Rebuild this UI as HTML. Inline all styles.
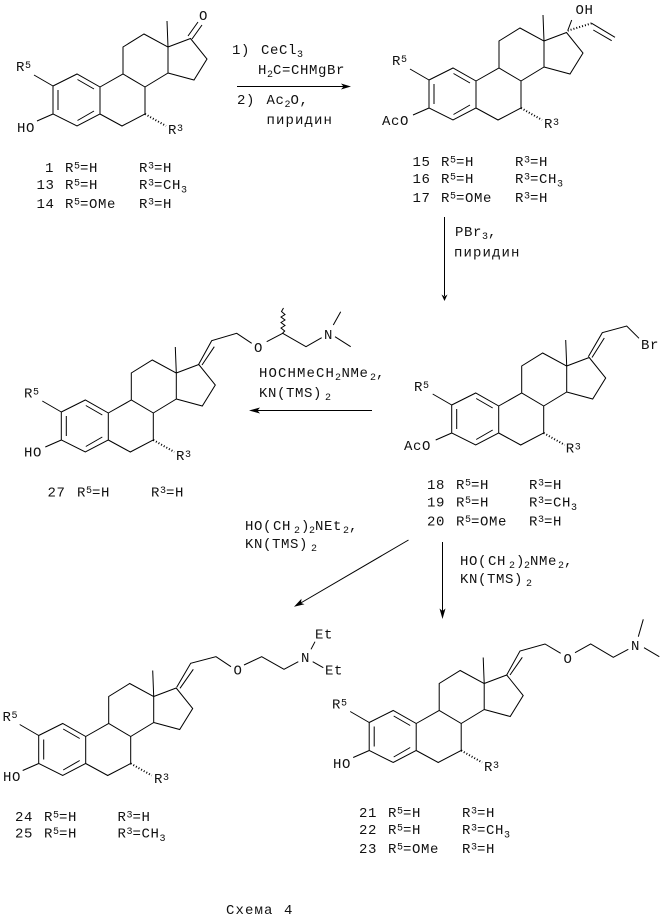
<!DOCTYPE html>
<html><head><meta charset="utf-8"><style>
html,body{margin:0;padding:0;background:#fff}
svg{display:block}
text{font:14px "Liberation Mono","DejaVu Sans Mono",monospace;letter-spacing:.6px;fill:#111}
.s{font-size:10px;letter-spacing:0}
.w{letter-spacing:1.1px}
.b{fill:none;stroke:#000;stroke-width:1}
.h{fill:none;stroke:#000;stroke-width:2;stroke-dasharray:1 2}
.a{fill:#000;stroke:none}
</style></head><body>
<svg width="667" height="922" viewBox="0 0 667 922" xmlns="http://www.w3.org/2000/svg">
<defs>
<g id="sk">
<path class="b" d="M53,86L77,74L100,87L100,114L77,126L53,114ZM58,90L58,110M77.5,79.5L94,89M77.5,120.5L94,111M100,114L122,126L145,114L145,87L123,74L100,87M123,74L123,47L144,34L168,47L168,73L145,87M168,47L190.5,38.5L207,59L194,80L168,73M168,47L167,21M53,86L34,75M53,114L37,121"/>
<path class="h" d="M145,114L166,126"/>
</g>
</defs>
<rect width="667" height="922" fill="#fff"/>

<!-- Skeletons -->
<use href="#sk"/>
<use href="#sk" x="376" y="-6"/>
<use href="#sk" x="398.7" y="319"/>
<use href="#sk" x="8.3" y="326"/>
<use href="#sk" x="-14.3" y="649.5"/>
<use href="#sk" x="316.2" y="636.5"/>

<!-- Compound 1 -->
<path class="b" d="M188,36L198,22M192,39L202,25"/>
<text x="199" y="20">O</text>
<text x="16" y="71">R<tspan class="s" dy="-3">5</tspan></text>
<text x="17" y="132">HO</text>
<text x="168" y="134">R<tspan class="s" dy="-3">3</tspan></text>
<text x="45" y="172">1</text>
<text x="65" y="172">R<tspan class="s" dy="-3.5">5</tspan><tspan dy="3.5">=H</tspan></text>
<text x="139" y="172">R<tspan class="s" dy="-3.5">3</tspan><tspan dy="3.5">=H</tspan></text>
<text x="36.5" y="189">13</text>
<text x="65" y="189">R<tspan class="s" dy="-3.5">5</tspan><tspan dy="3.5">=H</tspan></text>
<text x="139" y="189">R<tspan class="s" dy="-3.5">3</tspan><tspan dy="3.5">=CH</tspan><tspan class="s" dy="3.5">3</tspan></text>
<text x="36.5" y="208">14</text>
<text x="65" y="208">R<tspan class="s" dy="-3.5">5</tspan><tspan dy="3.5">=OMe</tspan></text>
<text x="139" y="208">R<tspan class="s" dy="-3.5">3</tspan><tspan dy="3.5">=H</tspan></text>

<!-- Reagents 1 -->
<text x="232" y="54">1)</text>
<text x="261" y="54">CeCl<tspan class="s" dy="3">3</tspan></text>
<text x="258" y="74">H<tspan class="s" dy="3">2</tspan><tspan dy="-3" x="273">C=CHMgBr</tspan></text>
<path class="b" d="M237,86.5L345,86.5"/>
<polygon class="a" points="351,86.5 341,83.5 343.5,86.5 341,89.5"/>
<text x="237" y="104">2)</text>
<text x="266.5" y="104">Ac<tspan class="s" dy="3">2</tspan><tspan dy="-3">O,</tspan></text>
<text class="w" x="266.5" y="124">пиридин</text>

<!-- Compound 15 -->
<path class="b" d="M567.7,30.7L571.7,20M591.7,23.3L615,37.3M593.3,30L611.7,40.7"/>
<path class="h" d="M567.7,30.7L591.7,23.3"/>
<text x="575.5" y="14">OH</text>
<text x="392" y="65">R<tspan class="s" dy="-3">5</tspan></text>
<text x="382" y="125">AcO</text>
<text x="544" y="128">R<tspan class="s" dy="-3">3</tspan></text>
<text x="412.5" y="166">15</text>
<text x="441" y="166">R<tspan class="s" dy="-3.5">5</tspan><tspan dy="3.5">=H</tspan></text>
<text x="515" y="166">R<tspan class="s" dy="-3.5">3</tspan><tspan dy="3.5">=H</tspan></text>
<text x="412.5" y="183">16</text>
<text x="441" y="183">R<tspan class="s" dy="-3.5">5</tspan><tspan dy="3.5">=H</tspan></text>
<text x="515" y="183">R<tspan class="s" dy="-3.5">3</tspan><tspan dy="3.5">=CH</tspan><tspan class="s" dy="3.5">3</tspan></text>
<text x="412.5" y="202">17</text>
<text x="441" y="202">R<tspan class="s" dy="-3.5">5</tspan><tspan dy="3.5">=OMe</tspan></text>
<text x="515" y="202">R<tspan class="s" dy="-3.5">3</tspan><tspan dy="3.5">=H</tspan></text>

<!-- Arrow PBr3 -->
<text x="455" y="236">PBr<tspan class="s" dy="3">3</tspan><tspan dy="-3">,</tspan></text>
<text class="w" x="454" y="256.5">пиридин</text>
<path class="b" d="M444.5,217L444.5,296"/>
<polygon class="a" points="444.5,301 441.5,294.5 444.5,296.5 447.5,294.5"/>

<!-- Compound 18 -->
<path class="b" d="M588.3,356.7L602.3,332.7L626.7,326L639,338.3M592,357.5L604.3,338"/>
<text x="641" y="349">Br</text>
<text x="414" y="391">R<tspan class="s" dy="-3">5</tspan></text>
<text x="404" y="450">AcO</text>
<text x="565.7" y="452.5">R<tspan class="s" dy="-3">3</tspan></text>
<text x="427" y="489">18</text>
<text x="456" y="489">R<tspan class="s" dy="-3.5">5</tspan><tspan dy="3.5">=H</tspan></text>
<text x="529" y="489">R<tspan class="s" dy="-3.5">3</tspan><tspan dy="3.5">=H</tspan></text>
<text x="427" y="506.5">19</text>
<text x="456" y="506.5">R<tspan class="s" dy="-3.5">5</tspan><tspan dy="3.5">=H</tspan></text>
<text x="529" y="506.5">R<tspan class="s" dy="-3.5">3</tspan><tspan dy="3.5">=CH</tspan><tspan class="s" dy="3.5">3</tspan></text>
<text x="427" y="525.5">20</text>
<text x="456" y="525.5">R<tspan class="s" dy="-3.5">5</tspan><tspan dy="3.5">=OMe</tspan></text>
<text x="529" y="525.5">R<tspan class="s" dy="-3.5">3</tspan><tspan dy="3.5">=H</tspan></text>

<!-- Arrow to 27 -->
<text y="377"><tspan class="w" x="259">HOCHMeCH</tspan><tspan class="s" x="335" dy="3">2</tspan><tspan x="341.5" dy="-3">NMe</tspan><tspan class="s" x="370" dy="3">2</tspan><tspan x="376" dy="-3">,</tspan></text>
<text x="259" y="397">KN(TMS)<tspan class="s" dx="3" dy="3">2</tspan></text>
<path class="b" d="M372,410.5L255,410.5"/>
<polygon class="a" points="249,410.5 260,407.5 257.5,410.5 260,413.5"/>

<!-- Compound 27 -->
<path class="b" d="M198.3,365L211.7,340.7L236.7,333.3L251.7,343.3M202,365L214.3,346.7M266.7,341.7L282.7,333.3L306,346.7L321.7,337.7M333.3,325L340.7,311.7M335,336.7L350.7,346.7"/>
<polyline class="b" points="282.7,333 284.7,331 281,328 285,325.5 281,322.5 285,320 281,317 285,314.5 281.5,311.5 283.5,308"/>
<text x="254" y="352">O</text>
<text x="324" y="339">N</text>
<text x="24" y="397.5">R<tspan class="s" dy="-3">5</tspan></text>
<text x="24" y="456.5">HO</text>
<text x="176" y="460">R<tspan class="s" dy="-3">3</tspan></text>
<text x="47.5" y="496.5">27</text>
<text x="77" y="496.5">R<tspan class="s" dy="-3.5">5</tspan><tspan dy="3.5">=H</tspan></text>
<text x="151" y="496.5">R<tspan class="s" dy="-3.5">3</tspan><tspan dy="3.5">=H</tspan></text>

<!-- Reagents lower left -->
<text y="530"><tspan x="245">HO(</tspan><tspan x="273">CH</tspan><tspan class="s" x="294" dy="3">2</tspan><tspan x="301" dy="-3">)</tspan><tspan class="s" x="309" dy="3">2</tspan><tspan x="315" dy="-3">NEt</tspan><tspan class="s" x="343" dy="3">2</tspan><tspan x="349" dy="-3">,</tspan></text>
<text x="245" y="548">KN(TMS)<tspan class="s" dx="3" dy="3">2</tspan></text>
<path class="b" d="M408.5,540L299,604"/>
<polygon class="a" points="294,606.8 301.5,598.8 301,603 304.5,604.2"/>

<!-- Reagents lower right -->
<text y="565"><tspan x="460">HO(</tspan><tspan x="488">CH</tspan><tspan class="s" x="509" dy="3">2</tspan><tspan x="516" dy="-3">)</tspan><tspan class="s" x="524" dy="3">2</tspan><tspan x="530" dy="-3">NMe</tspan><tspan class="s" x="558" dy="3">2</tspan><tspan x="564" dy="-3">,</tspan></text>
<text x="460" y="583">KN(TMS)<tspan class="s" dx="3" dy="3">2</tspan></text>
<path class="b" d="M442.5,542L442.5,614"/>
<polygon class="a" points="442.5,619 439.5,608.5 442.5,611 445.5,608.5"/>

<!-- Compound 24 -->
<path class="b" d="M176.7,687.3L190.7,663.3L216,656.7L231,666.7M180,688.3L193.3,669.3M244,665L261.7,656.7L284,669.3L298.3,661.7M311,649.3L315,641.7M312.7,661.7L323.3,667.7"/>
<text x="233.5" y="674.5">O</text>
<text x="301" y="662">N</text>
<text x="315" y="638.5">Et</text>
<text x="325" y="674.5">Et</text>
<text x="2.5" y="721">R<tspan class="s" dy="-3">5</tspan></text>
<text x="3" y="781">HO</text>
<text x="154" y="783">R<tspan class="s" dy="-3">3</tspan></text>
<text x="15" y="821">24</text>
<text x="44" y="821">R<tspan class="s" dy="-3.5">5</tspan><tspan dy="3.5">=H</tspan></text>
<text x="117.5" y="821">R<tspan class="s" dy="-3.5">3</tspan><tspan dy="3.5">=H</tspan></text>
<text x="15" y="837.5">25</text>
<text x="44" y="837.5">R<tspan class="s" dy="-3.5">5</tspan><tspan dy="3.5">=H</tspan></text>
<text x="117.5" y="837.5">R<tspan class="s" dy="-3.5">3</tspan><tspan dy="3.5">=CH</tspan><tspan class="s" dy="3.5">3</tspan></text>

<!-- Compound 21 -->
<path class="b" d="M506.7,675L520,651L545,644L560.7,653.3M510,675L522.3,657.3M575,652.7L590.7,644L613.3,657.3L628.3,649.3M638.3,636.7L643.3,619.3M644,647.7L659.3,656.7"/>
<text x="563.5" y="663">O</text>
<text x="631" y="650">N</text>
<text x="332" y="708.5">R<tspan class="s" dy="-3">5</tspan></text>
<text x="333" y="768">HO</text>
<text x="484" y="771">R<tspan class="s" dy="-3">3</tspan></text>
<text x="359" y="817">21</text>
<text x="388" y="817">R<tspan class="s" dy="-3.5">5</tspan><tspan dy="3.5">=H</tspan></text>
<text x="462" y="817">R<tspan class="s" dy="-3.5">3</tspan><tspan dy="3.5">=H</tspan></text>
<text x="359" y="834">22</text>
<text x="388" y="834">R<tspan class="s" dy="-3.5">5</tspan><tspan dy="3.5">=H</tspan></text>
<text x="462" y="834">R<tspan class="s" dy="-3.5">3</tspan><tspan dy="3.5">=CH</tspan><tspan class="s" dy="3.5">3</tspan></text>
<text x="359" y="853">23</text>
<text x="388" y="853">R<tspan class="s" dy="-3.5">5</tspan><tspan dy="3.5">=OMe</tspan></text>
<text x="462" y="853">R<tspan class="s" dy="-3.5">3</tspan><tspan dy="3.5">=H</tspan></text>

<!-- Caption -->
<text class="w" x="226" y="914">Схема<tspan x="284">4</tspan></text>
</svg>
</body></html>
